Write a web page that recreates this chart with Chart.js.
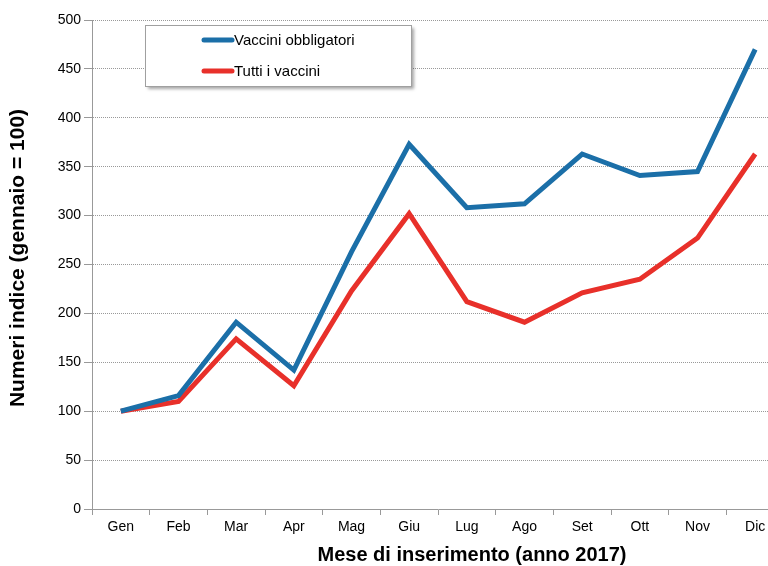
<!DOCTYPE html>
<html>
<head>
<meta charset="utf-8">
<script src="https://cdn.jsdelivr.net/npm/chart.js@4"></script>
<style>
  html, body { margin: 0; padding: 0; background: #fff; overflow: hidden; }
  #wrap { width: 784px; height: 566px; }
</style>
</head>
<body>
<div id="wrap"><canvas id="indexChart"></canvas></div>
<script>
// months (2017) and index values (January = 100)
const months = ['Gen', 'Feb', 'Mar', 'Apr', 'Mag', 'Giu', 'Lug', 'Ago', 'Set', 'Ott', 'Nov', 'Dic'];
const obbligatori = [100, 116, 191, 142, 263, 373, 308, 312, 363, 341, 345, 470];
const tutti = [100, 110, 174, 126, 223, 302, 212, 191, 221, 235, 277, 363];
const seriesNames = ['Vaccini obbligatori', 'Tutti i vaccini'];
const xTitle = 'Mese di inserimento (anno 2017)';
const yTitle = 'Numeri indice (gennaio = 100)';

const FONT = "'Liberation Sans', Arial, sans-serif";

// legend drawn as a shadowed box inside the plot area
const boxLegend = {
    id: 'boxLegend',
    afterDatasetsDraw(chart) {
        const ctx = chart.ctx;
        const x = 145, y = 25, w = 266, h = 61;
        ctx.save();
        ctx.shadowColor = 'rgba(0,0,0,0.35)';
        ctx.shadowOffsetX = 3;
        ctx.shadowOffsetY = 3;
        ctx.shadowBlur = 3;
        ctx.fillStyle = '#fff';
        ctx.fillRect(x, y, w, h);
        ctx.restore();
        ctx.save();
        ctx.strokeStyle = '#a0a0a0';
        ctx.lineWidth = 1;
        ctx.strokeRect(x + 0.5, y + 0.5, w, h);
        chart.data.datasets.forEach((ds, i) => {
            const ly = y + 15 + i * 31;
            ctx.strokeStyle = ds.borderColor;
            ctx.lineWidth = 5;
            ctx.lineCap = 'round';
            ctx.beginPath();
            ctx.moveTo(204, ly);
            ctx.lineTo(232, ly);
            ctx.stroke();
            ctx.fillStyle = '#000';
            ctx.font = '15px ' + FONT;
            ctx.textBaseline = 'middle';
            ctx.fillText(ds.label, 234, ly + 1);
        });
        ctx.restore();
    }
};

// axis titles, placed like the original (the source chart was cropped on the right)
const axisTitles = {
    id: 'axisTitles',
    afterDraw(chart) {
        const ctx = chart.ctx;
        ctx.save();
        ctx.fillStyle = '#000';
        ctx.textAlign = 'center';
        ctx.textBaseline = 'middle';
        ctx.font = 'bold 20px ' + FONT;
        ctx.fillText(xTitle, 472, 555);
        ctx.translate(18, 258);
        ctx.rotate(-Math.PI / 2);
        ctx.font = 'bold 21px ' + FONT;
        ctx.fillText(yTitle, 0, 0);
        ctx.restore();
    }
};

const chartCtx = document.getElementById('indexChart').getContext('2d');
const indexChart = new Chart(chartCtx, {
    type: 'line',
    data: {
        labels: months,
        datasets: [{
            label: seriesNames[0],
            data: obbligatori,
            borderColor: '#1b6fa8',
            backgroundColor: '#1b6fa8',
            borderWidth: 5,
            pointRadius: 0,
            tension: 0
        }, {
            label: seriesNames[1],
            data: tutti,
            borderColor: '#e8302a',
            backgroundColor: '#e8302a',
            borderWidth: 5,
            pointRadius: 0,
            tension: 0
        }]
    },
    options: {
        responsive: true,
        maintainAspectRatio: false,
        animation: false,
        layout: { padding: { top: 20, left: 0, right: 0, bottom: 0 } },
        plugins: {
            legend: { display: false },
            tooltip: { enabled: false }
        },
        scales: {
            x: {
                offset: true,
                grid: {
                    offset: true,
                    drawOnChartArea: false,
                    drawTicks: true,
                    tickLength: 6,
                    color: '#999'
                },
                border: { color: '#999', width: 1 },
                ticks: { color: '#000', font: { family: FONT, size: 14 }, padding: 4 },
                afterFit(scale) { scale.height = 57; }
            },
            y: {
                min: 0,
                max: 500,
                ticks: { stepSize: 50, color: '#000', font: { family: FONT, size: 14 }, padding: 3 },
                grid: {
                    color: '#999',
                    tickLength: 8,
                    tickColor: '#999',
                    tickBorderDash: []
                },
                border: { color: '#999', width: 1, dash: [1, 1] },
                afterFit(scale) { scale.width = 92; }
            }
        }
    },
    plugins: [boxLegend, axisTitles]
});
</script>
</body>
</html>
